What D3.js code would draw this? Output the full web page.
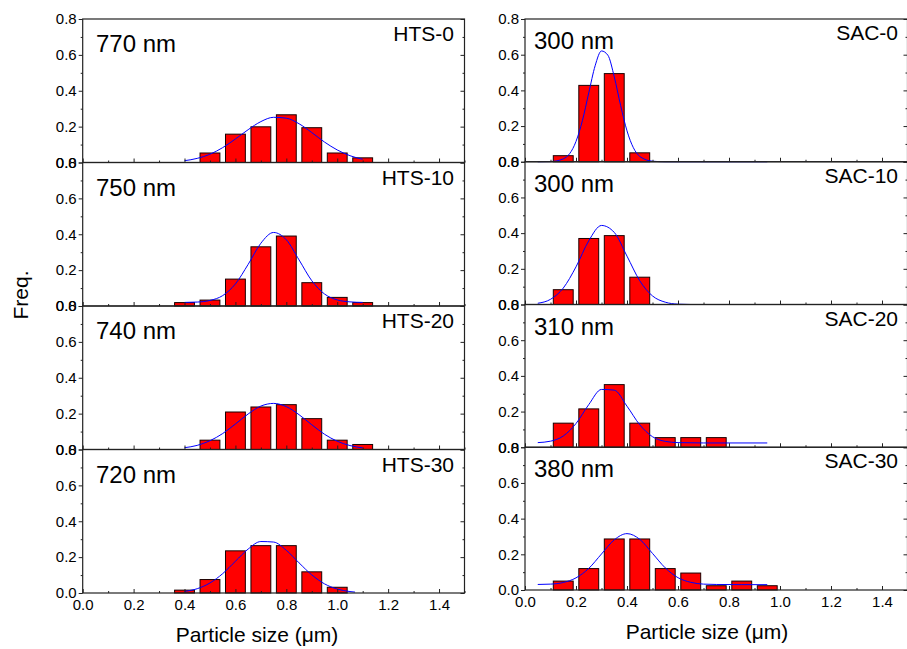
<!DOCTYPE html>
<html>
<head>
<meta charset="utf-8">
<script src="https://cdn.jsdelivr.net/npm/d3@7"></script>
<style>
  body { margin: 0; background: #fff; }
  text { font-family: "Liberation Sans", Arial, sans-serif; }
</style>
</head>
<body>
<div id="chart"></div>
<script>
// tick values
const xTicks = [0, 0.2, 0.4, 0.6, 0.8, 1.0, 1.2, 1.4];
const xMinor = [0.1, 0.3, 0.5, 0.7, 0.9, 1.1, 1.3, 1.5];
const yTicks = [0, 0.2, 0.4, 0.6, 0.8];
const yMinor = [0.1, 0.3, 0.5, 0.7];

// HTS samples (left column)
const htsNames = ["HTS-0", "HTS-10", "HTS-20", "HTS-30"];
const htsSizes = ["770 nm", "750 nm", "740 nm", "720 nm"];
const hts0Bars = [[0.5, 0.053], [0.6, 0.158], [0.7, 0.199], [0.8, 0.266], [0.9, 0.194], [1.0, 0.053], [1.1, 0.026]];
const hts10Bars = [[0.4, 0.019], [0.5, 0.033], [0.6, 0.150], [0.7, 0.330], [0.8, 0.390], [0.9, 0.130], [1.0, 0.048], [1.1, 0.019]];
const hts20Bars = [[0.5, 0.052], [0.6, 0.209], [0.7, 0.237], [0.8, 0.250], [0.9, 0.172], [1.0, 0.052], [1.1, 0.028]];
const hts30Bars = [[0.4, 0.016], [0.5, 0.075], [0.6, 0.235], [0.7, 0.264], [0.8, 0.264], [0.9, 0.118], [1.0, 0.032]];
const hts0Fit = [[0.40, 0.010], [0.45, 0.023], [0.50, 0.046], [0.55, 0.083], [0.60, 0.131], [0.65, 0.183], [0.70, 0.228], [0.75, 0.252], [0.80, 0.247], [0.85, 0.216], [0.90, 0.167], [0.95, 0.114], [1.00, 0.070], [1.05, 0.038], [1.10, 0.018]];
const hts10Fit = [[0.40, 0.020], [0.45, 0.022], [0.50, 0.031], [0.55, 0.058], [0.60, 0.123], [0.65, 0.232], [0.70, 0.350], [0.75, 0.410], [0.80, 0.369], [0.85, 0.257], [0.90, 0.141], [0.95, 0.067], [1.00, 0.034], [1.05, 0.023], [1.10, 0.020]];
const hts20Fit = [[0.40, 0.010], [0.45, 0.023], [0.50, 0.049], [0.55, 0.089], [0.60, 0.142], [0.65, 0.198], [0.70, 0.242], [0.75, 0.257], [0.80, 0.239], [0.85, 0.194], [0.90, 0.138], [0.95, 0.085], [1.00, 0.046], [1.05, 0.022], [1.10, 0.009]];
const hts30Fit = [[0.40, 0.009], [0.45, 0.024], [0.50, 0.056], [0.55, 0.108], [0.60, 0.177], [0.65, 0.245], [0.70, 0.287], [0.75, 0.284], [0.80, 0.238], [0.85, 0.168], [0.90, 0.101], [0.95, 0.051], [1.00, 0.022], [1.05, 0.008], [1.07, 0.005]];

// SAC samples (right column)
const sacNames = ["SAC-0", "SAC-10", "SAC-20", "SAC-30"];
const sacSizes = ["300 nm", "300 nm", "310 nm", "380 nm"];
const sac0Bars = [[0.15, 0.034], [0.25, 0.428], [0.35, 0.494], [0.45, 0.050]];
const sac10Bars = [[0.15, 0.083], [0.25, 0.370], [0.35, 0.386], [0.45, 0.153]];
const sac20Bars = [[0.15, 0.135], [0.25, 0.215], [0.35, 0.351], [0.45, 0.135], [0.55, 0.054], [0.65, 0.054], [0.75, 0.054]];
const sac30Bars = [[0.15, 0.050], [0.25, 0.120], [0.35, 0.286], [0.45, 0.286], [0.55, 0.120], [0.65, 0.095], [0.75, 0.024], [0.85, 0.050], [0.95, 0.024]];
const sac0Fit = [[0.05, 0.000], [0.10, 0.001], [0.15, 0.016], [0.20, 0.114], [0.225, 0.230], [0.25, 0.386], [0.275, 0.538], [0.30, 0.621], [0.325, 0.597], [0.35, 0.476], [0.375, 0.315], [0.40, 0.173], [0.45, 0.030], [0.50, 0.003], [0.55, 0.000], [0.95, 0.000]];
const sac10Fit = [[0.05, 0.007], [0.10, 0.029], [0.15, 0.092], [0.20, 0.211], [0.25, 0.357], [0.30, 0.443], [0.35, 0.404], [0.40, 0.271], [0.45, 0.133], [0.50, 0.048], [0.55, 0.013], [0.60, 0.002], [0.65, 0.000]];
const sac20Fit = [[0.05, 0.026], [0.10, 0.034], [0.15, 0.063], [0.20, 0.133], [0.25, 0.239], [0.30, 0.324], [0.35, 0.320], [0.40, 0.230], [0.45, 0.126], [0.50, 0.059], [0.55, 0.033], [0.60, 0.026], [0.70, 0.024], [0.80, 0.024], [0.95, 0.024]];
const sac30Fit = [[0.05, 0.031], [0.10, 0.033], [0.15, 0.042], [0.20, 0.068], [0.25, 0.121], [0.30, 0.202], [0.35, 0.281], [0.40, 0.316], [0.45, 0.284], [0.50, 0.205], [0.55, 0.124], [0.60, 0.069], [0.65, 0.043], [0.70, 0.033], [0.75, 0.031], [0.85, 0.030], [0.95, 0.030]];

const width = 907;
const height = 649;
const barW = 0.078; // bar width in µm

const svg = d3.select("#chart")
    .append("svg")
    .attr("width", width)
    .attr("height", height);

const columns = [
    {
        left: 82.7, right: 464.5, top: 19, bottom: 593,
        names: htsNames, sizes: htsSizes,
        bars: [hts0Bars, hts10Bars, hts20Bars, hts30Bars],
        fits: [hts0Fit, hts10Fit, hts20Fit, hts30Fit],
        sizeX: 96, sizeDy: 33, nameX: 454, nameDy: 22,
        titleX: 257, titleY: 642
    },
    {
        left: 525, right: 907.5, top: 19, bottom: 590,
        names: sacNames, sizes: sacSizes,
        bars: [sac0Bars, sac10Bars, sac20Bars, sac30Bars],
        fits: [sac0Fit, sac10Fit, sac20Fit, sac30Fit],
        sizeX: 534, sizeDy: 30, nameX: 898, nameDy: 21,
        titleX: 707, titleY: 639
    }
];

const frameColor = "#222";

columns.forEach(function (col) {
    const x = d3.scaleLinear().domain([0, 1.5]).range([col.left, col.right]);
    const ph = (col.bottom - col.top) / 4;

    col.bars.forEach(function (bars, i) {
        const top = col.top + i * ph;
        const y = d3.scaleLinear().domain([0, 0.8]).range([top + ph, top]);
        const g = svg.append("g");

        // bars
        g.selectAll("rect.bar")
            .data(bars)
            .enter()
            .append("rect")
            .attr("class", "bar")
            .attr("x", d => x(d[0] - barW / 2))
            .attr("width", x(barW) - x(0))
            .attr("y", d => y(d[1]))
            .attr("height", d => y(0) - y(d[1]))
            .style("fill", "#ff0000")
            .style("stroke", "#1a0000")
            .style("stroke-width", 1);

        // fit curve
        const line = d3.line()
            .x(d => x(d[0]))
            .y(d => y(d[1]))
            .curve(d3.curveMonotoneX);
        g.append("path")
            .datum(col.fits[i])
            .attr("d", line)
            .style("fill", "none")
            .style("stroke", "#0000ff")
            .style("stroke-width", 1);

        // left axis (outward ticks, labels)
        const ax = g.append("g")
            .attr("transform", `translate(${col.left},0)`)
            .call(d3.axisLeft(y).tickValues(yTicks).tickFormat(d3.format(".1f")).tickSize(4).tickPadding(2).tickSizeOuter(0));
        g.append("g")
            .attr("transform", `translate(${col.left},0)`)
            .call(d3.axisLeft(y).tickValues(yMinor).tickFormat("").tickSize(2).tickSizeOuter(0));

        // right axis ticks (inward)
        g.append("g")
            .attr("transform", `translate(${col.right},0)`)
            .call(d3.axisRight(y).tickValues(yTicks).tickFormat("").tickSize(-4).tickSizeOuter(0));
        g.append("g")
            .attr("transform", `translate(${col.right},0)`)
            .call(d3.axisRight(y).tickValues(yMinor).tickFormat("").tickSize(-2).tickSizeOuter(0));

        // bottom axis ticks (inward)
        const isLast = i === col.bars.length - 1;
        g.append("g")
            .attr("transform", `translate(0,${top + ph})`)
            .call(d3.axisBottom(x).tickValues(xTicks)
                .tickFormat(isLast ? d3.format(".1f") : "")
                .tickSize(-4).tickPadding(6).tickSizeOuter(0));
        g.append("g")
            .attr("transform", `translate(0,${top + ph})`)
            .call(d3.axisBottom(x).tickValues(xMinor).tickFormat("").tickSize(-2).tickSizeOuter(0));

        g.selectAll(".domain").remove();
        g.selectAll(".tick line").style("stroke", frameColor);
        g.selectAll(".tick text")
            .style("font-family", '"Liberation Sans", Arial, sans-serif')
            .style("font-size", "15px")
            .style("fill", "#000");

        // frame
        g.append("rect")
            .attr("x", col.left)
            .attr("y", top)
            .attr("width", col.right - col.left)
            .attr("height", ph)
            .style("fill", "none")
            .style("stroke", frameColor)
            .style("stroke-width", 1.2);

        // mean size and sample name
        g.append("text")
            .attr("x", col.sizeX)
            .attr("y", top + col.sizeDy)
            .style("font-size", "24px")
            .text(col.sizes[i]);
        g.append("text")
            .attr("x", col.nameX)
            .attr("y", top + col.nameDy)
            .attr("text-anchor", "end")
            .style("font-size", "21px")
            .text(col.names[i]);
    });

    svg.append("text")
        .attr("x", col.titleX)
        .attr("y", col.titleY)
        .attr("text-anchor", "middle")
        .style("font-size", "21px")
        .text("Particle size (μm)");
});

// y title
svg.append("text")
    .attr("transform", "translate(28,295) rotate(-90)")
    .attr("text-anchor", "middle")
    .style("font-size", "21px")
    .text("Freq.");
</script>
</body>
</html>
